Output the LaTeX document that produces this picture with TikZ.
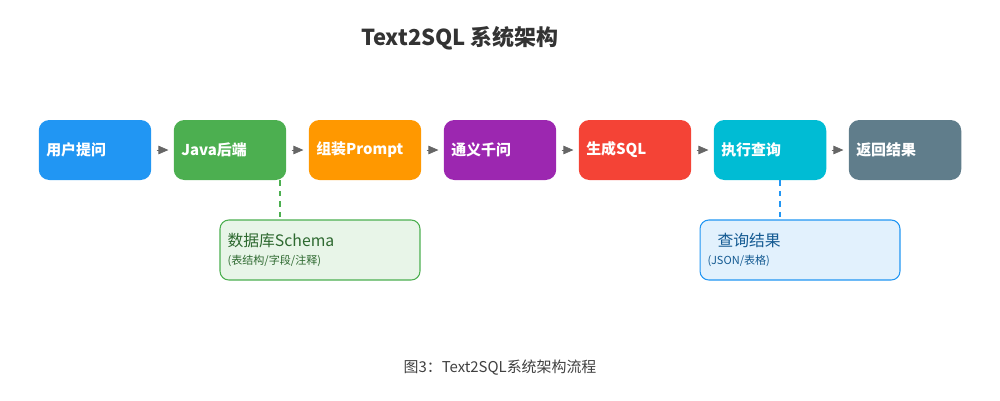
\documentclass[tikz,border=0pt]{standalone}
\usepackage{fontspec}
\setmainfont{Noto Sans CJK SC}
\usetikzlibrary{positioning,arrows.meta}
\definecolor{cBlue}{HTML}{2196F3}
\definecolor{cGreen}{HTML}{4CAF50}
\definecolor{cOrange}{HTML}{FF9800}
\definecolor{cPurple}{HTML}{9C27B0}
\definecolor{cRed}{HTML}{F44336}
\definecolor{cCyan}{HTML}{00BCD4}
\definecolor{cGray}{HTML}{607D8B}
\tikzset{
  stepbox/.style={rounded corners=6pt, minimum width=2.2cm, minimum height=1.2cm,
    text=white, font=\fontsize{8.5}{10}\selectfont\bfseries, align=left,
    text width=1.95cm, inner xsep=0.15cm},
  flow/.style={-{Triangle[length=0.2cm,width=0.17cm]}, draw=black!60, fill=black!60, shorten <=0.1cm, shorten >=0.1cm},
  note/.style={rounded corners=5pt, minimum width=4cm, minimum height=1.2cm, line width=0.6pt,
    align=left, text width=3.7cm},
  link/.style={dashed, line width=0.8pt}
}
\begin{document}
\begin{tikzpicture}[x=0.02cm,y=-0.02cm]
        % Canvas
        \useasboundingbox (0,0) rectangle (1000,400);
        \node[font=\fontsize{12.5}{14}\selectfont\bfseries, text=black!80] (title) at (460,38) {Text2SQL 系统架构};

        % Pipeline
        \node[stepbox, fill=cBlue]   (ask)    at (95,150)  {用户提问};
        \node[stepbox, fill=cGreen]  (java)   at (230,150) {Java后端};
        \node[stepbox, fill=cOrange] (prompt) at (365,150) {组装Prompt};
        \node[stepbox, fill=cPurple] (qwen)   at (500,150) {通义千问};
        \node[stepbox, fill=cRed]    (gensql) at (635,150) {生成SQL};
        \node[stepbox, fill=cCyan]   (exec)   at (770,150) {执行查询};
        \node[stepbox, fill=cGray]   (ret)    at (905,150) {返回结果};
        \foreach \a/\b in {ask/java, java/prompt, prompt/qwen, qwen/gensql, gensql/exec, exec/ret}
          \draw[flow] (\a) -- (\b);

        % Side notes
        \node[note, draw=cGreen, fill=cGreen!13, text=cGreen!60!black] (schema) at (320,250)
          {\fontsize{9}{10}\selectfont 数据库Schema\\[-2pt]\fontsize{6.3}{7}\selectfont (表结构/字段/注释)};
        \node[note, draw=cBlue, fill=cBlue!13, text=cBlue!60!black] (result) at (800,250)
          {\hspace*{0.2cm}\fontsize{9}{10}\selectfont 查询结果\\[-2pt]\fontsize{6.3}{7}\selectfont (JSON/表格)};
        \draw[link, cGreen] (java.south -| 280,0) -- (schema.north -| 280,0);
        \draw[link, cBlue] (exec.south -| 780,0) -- (result.north -| 780,0);

        % Caption
        \node[font=\fontsize{8.5}{10}\selectfont, text=black!75] (cap) at (500,368) {图3：Text2SQL系统架构流程};
\end{tikzpicture}
\end{document}
